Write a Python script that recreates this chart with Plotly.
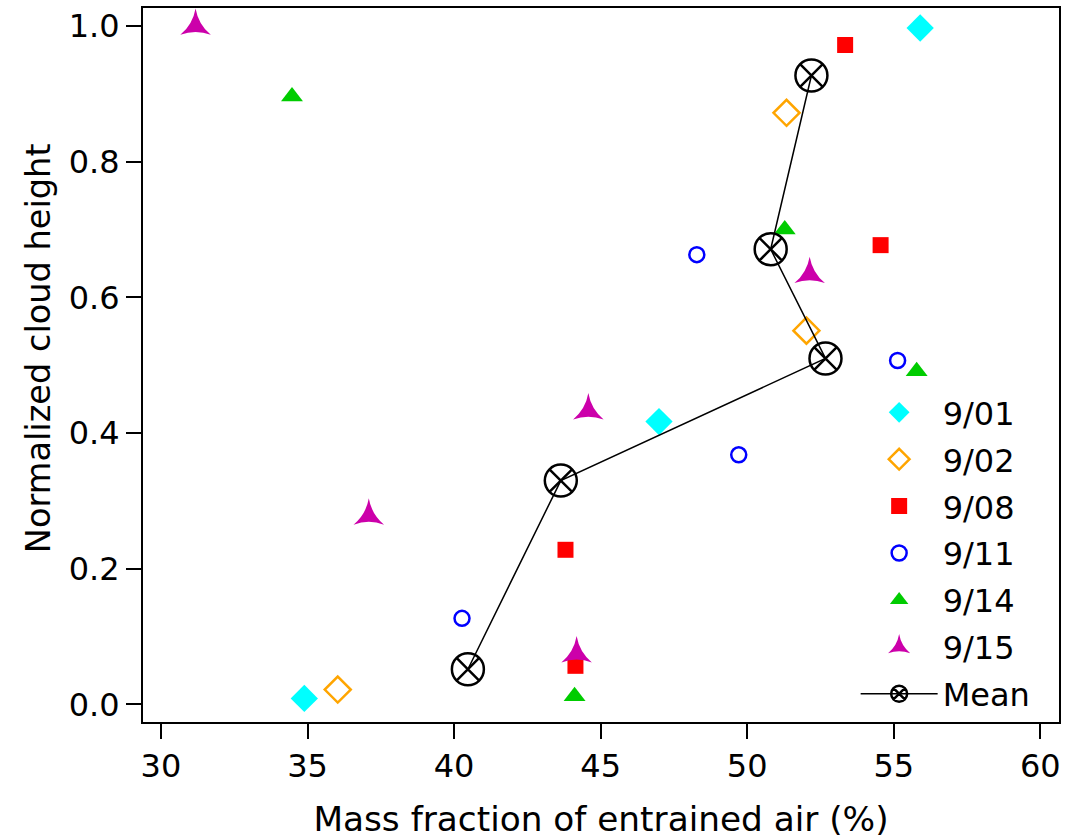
import plotly.graph_objects as go

# ---- data ----
dates = ["9/01", "9/02", "9/08", "9/11", "9/14", "9/15"]

x_0901 = [34.89, 46.99, 55.90]
y_0901 = [0.009, 0.417, 0.997]

x_0902 = [36.03, 52.02, 51.34]
y_0902 = [0.022, 0.551, 0.872]

x_0908 = [44.14, 43.80, 54.55, 53.34]
y_0908 = [0.057, 0.228, 0.677, 0.972]

x_0911 = [40.27, 49.71, 48.28, 55.13]
y_0911 = [0.127, 0.368, 0.663, 0.507]

x_0914 = [44.11, 34.47, 51.28, 55.78]
y_0914 = [0.012, 0.896, 0.700, 0.491]

x_0915 = [31.18, 37.09, 44.58, 52.13, 44.18]
y_0915 = [1.000, 0.278, 0.433, 0.634, 0.075]

x_mean = [40.47, 43.64, 52.67, 50.80, 52.19]
y_mean = [0.052, 0.330, 0.510, 0.671, 0.927]

x_ticks = [30, 35, 40, 45, 50, 55, 60]
y_ticks = [0.0, 0.2, 0.4, 0.6, 0.8, 1.0]

x_title = "Mass fraction of entrained air (%)"
y_title = "Normalized cloud height"

series = [
    (dates[0], x_0901, y_0901, "diamond", "#00FFFF", 21),
    (dates[1], x_0902, y_0902, "diamond-open", "#FFA500", 20),
    (dates[2], x_0908, y_0908, "square", "#FF0000", 16),
    (dates[3], x_0911, y_0911, "circle-open", "#0000FF", 15),
    (dates[4], x_0914, y_0914, "triangle-up", "#00CC00", 19),
    (dates[5], x_0915, y_0915, "star-triangle-up", "#CC00AA", 22),
]

FONT = "DejaVu Sans, Arial, sans-serif"
FS = 32

fig = go.Figure()
for name, xs, ys, sym, col, sz in series:
    open_ = sym.endswith("open")
    fig.add_trace(go.Scatter(
        x=xs, y=ys, mode="markers", name=name, legendgroup=name,
        marker=dict(symbol=sym, size=sz, color=col,
                    line=dict(color=col, width=2.5 if open_ else 0)),
    ))

fig.add_trace(go.Scatter(
    x=x_mean, y=y_mean, mode="lines+markers", name="Mean", legendgroup="Mean",
    line=dict(color="black", width=1.5),
    marker=dict(symbol="circle-x-open", size=32, color="black",
                line=dict(color="black", width=2.5)),
))

axis_common = dict(
    showline=True, linecolor="black", linewidth=2, mirror=True,
    ticks="outside", ticklen=15, tickwidth=2, tickcolor="black",
    showgrid=False, zeroline=False,
    tickfont=dict(family=FONT, size=FS, color="black"),
)

fig.update_xaxes(range=[29.387, 60.636], tickvals=x_ticks,
                 title_text=x_title,
                 title_font=dict(family=FONT, size=34.3, color="black"),
                 title_standoff=24, **axis_common)
fig.update_yaxes(range=[-0.0258, 1.0265], tickvals=y_ticks, tickformat=".1f",
                 **axis_common)

# y-axis title placed as a rotated annotation (it sits slightly above centre)
fig.add_annotation(text=y_title, xref="paper", yref="paper",
                   x=-0.114, y=0.523, xanchor="center", yanchor="middle",
                   textangle=-90, showarrow=False,
                   font=dict(family=FONT, size=33.6, color="black"))

fig.update_layout(
    width=1067, height=839,
    margin=dict(l=143, r=6, t=8, b=116),
    plot_bgcolor="white", paper_bgcolor="white",
    font=dict(family=FONT, size=FS, color="black"),
    showlegend=True,
    legend=dict(x=0.778, xanchor="left", y=0.0, yanchor="bottom",
                bgcolor="rgba(0,0,0,0)", borderwidth=0,
                font=dict(family=FONT, size=FS, color="black"),
                itemwidth=77, tracegroupgap=2.3, traceorder="grouped"),
)

fig.write_html("out.html", config={"displayModeBar": False},
               post_script="document.body.style.margin='0';")
